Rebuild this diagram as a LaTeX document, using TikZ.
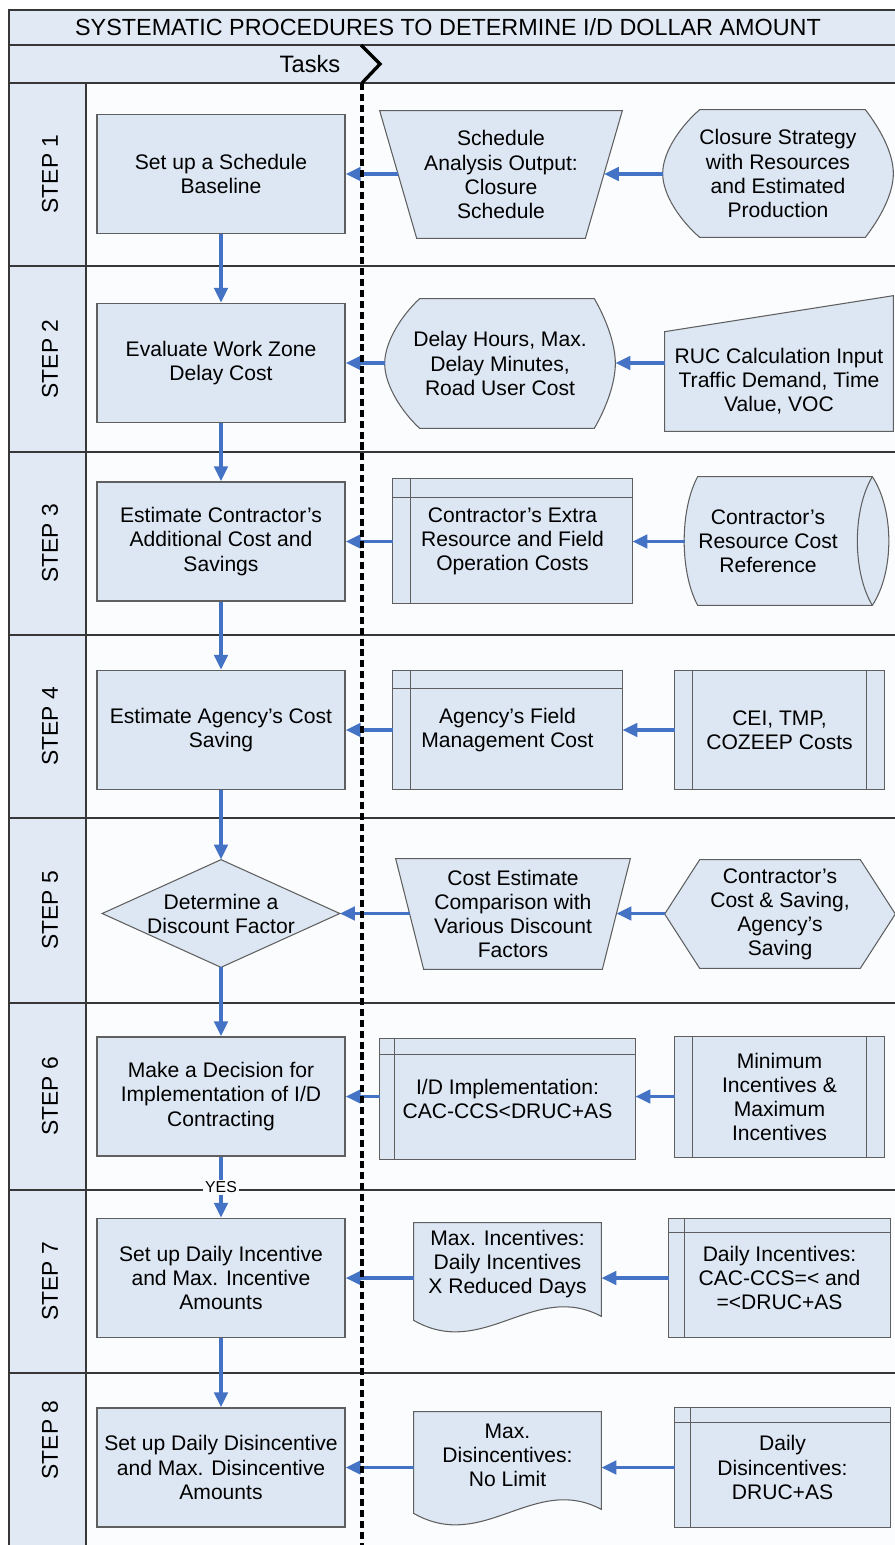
\documentclass[tikz,border=0pt]{standalone}
\usepackage{fontspec}
\setmainfont{Liberation Sans}
\usepackage{tikz}
\usetikzlibrary{arrows.meta,calc,positioning}
\pgfdeclarelayer{bg}
\pgfsetlayers{bg,main}
\definecolor{IDazul}  {RGB}{68, 114, 196}
\definecolor{IDbox}   {RGB}{221,231, 243}
\definecolor{IDlane}  {RGB}{224,233, 244}
\definecolor{IDground}{RGB}{251,252, 254}
\definecolor{IDedge}  {RGB}{95,  95,  95}
\definecolor{IDrule}  {RGB}{55,  55,  55}

\begin{document}
\begin{tikzpicture}[x=0.02cm, y=-0.02cm,
  txt/.style={font=\fontsize{12}{13.7}\selectfont, align=center, inner sep=0pt},
  task/.style={txt, draw=IDedge, line width=0.7pt, fill=IDbox, minimum width=4.96cm, minimum height=2.38cm},
  form/.style={draw=IDedge, line width=0.6pt, fill=IDbox},
  rule/.style={draw=IDrule, line width=0.9pt},
  flow/.style={draw=IDazul, line width=2.1pt, -{Triangle[length=8.5pt,width=7.5pt]}},
  steplabel/.style={rotate=90, font=\fontsize{13}{15}\selectfont},
  yes/.style={font=\fontsize{9}{10}\selectfont, fill=IDground, inner sep=1pt}]
\useasboundingbox (0,0) rectangle (895,1545);
\clip (0,0) rectangle (895,1545);

\begin{pgfonlayer}{bg}
\fill[IDlane] (9,10) rectangle (905,83);
\fill[IDlane] (9,83) rectangle (86,1560);
\fill[IDground] (86,83) rectangle (905,1560);
\foreach \y in {45,83,266,452,635,818,1003,1190,1373}
  \draw[rule] (9,\y) -- (905,\y);
\draw[rule] (9,1560) -- (9,10) -- (905,10);
\draw[rule] (86,83) -- (86,1560);
\end{pgfonlayer}

\node[font=\fontsize{13.3}{15}\selectfont] (title) at (448,27.5) {SYSTEMATIC PROCEDURES TO DETERMINE I/D DOLLAR AMOUNT};
\node[font=\fontsize{13.5}{15}\selectfont] (tasks) at (310,64) {Tasks};
\foreach \n/\y in {1/174,2/359,3/543.5,4/726.5,5/910.5,6/1096.5,7/1281.5,8/1440}
  \node[steplabel] (step\n) at (50,\y) {STEP \n};

\node[task] (t1) at (221,174) {Set up a Schedule\\Baseline};
\node[txt, minimum width=4.1cm, minimum height=2.54cm] (m1) at (501,174.5) {Schedule\\Analysis Output:\\Closure\\Schedule};
\node[txt, minimum width=4.6cm, minimum height=2.54cm] (r1) at (778,173.5) {Closure Strategy\\with Resources\\and Estimated\\Production};

\node[task] (t2) at (221,363) {Evaluate Work Zone\\Delay Cost};
\node[txt, minimum width=4.6cm, minimum height=2.58cm] (m2) at (500,363.5) {Delay Hours, Max.\\Delay Minutes,\\Road User Cost};
\node[txt, minimum width=4.56cm, minimum height=1.98cm] (r2) at (779,381.5) {RUC Calculation Input\\Traffic Demand, Time\\Value, VOC};

\node[task] (t3) at (221,541.5) {Estimate Contractor's\\Additional Cost and\\Savings};
\node[txt, minimum width=4.78cm, minimum height=2.48cm] (m3) at (512.5,541) {Contractor's Extra\\Resource and Field\\Operation Costs};
\node[txt, minimum width=3.32cm, minimum height=2.56cm] (r3) at (768,541) {Contractor's\\Resource Cost\\Reference};

\node[task] (t4) at (221,730) {Estimate Agency's Cost\\Saving};
\node[txt, minimum width=4.58cm, minimum height=2.36cm] (m4) at (507.5,730) {Agency's Field\\Management Cost};
\node[txt, minimum width=4.18cm, minimum height=2.36cm] (r4) at (779.5,730) {CEI, TMP,\\COZEEP Costs};

\node[txt, minimum width=4.74cm, minimum height=2.14cm] (t5) at (221,913.5) {Determine a\\Discount Factor};
\node[txt, minimum width=4.12cm, minimum height=2.2cm] (m5) at (513,914) {Cost Estimate\\Comparison with\\Various Discount\\Factors};
\node[txt, minimum width=4.6cm, minimum height=2.16cm] (r5) at (780,914) {Contractor's\\Cost \& Saving,\\Agency's\\Saving};

\node[task] (t6) at (221,1096.5) {Make a Decision for\\Implementation of I/D\\Contracting};
\node[txt, minimum width=5.1cm, minimum height=2.4cm] (m6) at (507.5,1099) {I/D Implementation:\\CAC-CCS<DRUC+AS};
\node[txt, minimum width=4.18cm, minimum height=2.4cm] (r6) at (779.5,1097) {Minimum\\Incentives \&\\Maximum\\Incentives};

\node[task] (t7) at (221,1278) {Set up Daily Incentive\\and Max. Incentive\\Amounts};
\node[txt, minimum width=3.74cm, minimum height=1.64cm] (m7) at (507.5,1264) {Max. Incentives:\\Daily Incentives\\X Reduced Days};
\node[txt, minimum width=4.42cm, minimum height=2.36cm] (r7) at (779.5,1278) {Daily Incentives:\\CAC-CCS=< and\\=<DRUC+AS};

\node[task] (t8) at (221,1467.5) {Set up Daily Disincentive\\and Max. Disincentive\\Amounts};
\node[txt, minimum width=3.74cm, minimum height=1.72cm] (m8) at (507.5,1455) {Max.\\Disincentives:\\No Limit};
\node[txt, minimum width=4.3cm, minimum height=2.38cm] (r8) at (782.5,1467.5) {Daily\\Disincentives:\\DRUC+AS};

\begin{pgfonlayer}{bg}
\foreach \n/\s in {m1/18.5,m5/14}
  \draw[form] ($(\n.north west)+(-\s,0)$) -- ($(\n.north east)+(\s,0)$) -- ($(\n.south east)+(-\s,0)$) -- ($(\n.south west)+(\s,0)$) -- cycle;
\foreach \n/\a/\b in {r1/37/28,m2/35/21}
  \draw[form] ($(\n.north west)+(\a,0)$) -- ($(\n.north east)+(-\b,0)$)
    .. controls ($(\n.north east)+(-0.45*\b,20)$) and ($(\n.east)+(0,-20)$) .. (\n.east)
    .. controls ($(\n.east)+(0,20)$) and ($(\n.south east)+(-0.45*\b,-20)$) .. ($(\n.south east)+(-\b,0)$)
    -- ($(\n.south west)+(\a,0)$)
    .. controls ($(\n.south west)+(0.5*\a,-16)$) and ($(\n.west)+(0,22)$) .. (\n.west)
    .. controls ($(\n.west)+(0,-22)$) and ($(\n.north west)+(0.5*\a,16)$) .. ($(\n.north west)+(\a,0)$) -- cycle;
\draw[form] (r2.south west) -- (r2.north west) -- ($(r2.north east)+(0,-36)$) -- (r2.south east) -- cycle;
\draw[form] ($(r3.north west)+(13,0)$) -- ($(r3.north east)+(21,0)$)
  .. controls ($(r3.east)+(43,-31)$) and ($(r3.east)+(43,31)$) .. ($(r3.south east)+(21,0)$)
  -- ($(r3.south west)+(13,0)$)
  .. controls ($(r3.west)+(-5,31)$) and ($(r3.west)+(-5,-31)$) .. ($(r3.north west)+(13,0)$) -- cycle;
\draw[form, fill=none] ($(r3.north east)+(21,0)$) .. controls ($(r3.east)+(1,-31)$) and ($(r3.east)+(1,31)$) .. ($(r3.south east)+(21,0)$);
\foreach \n/\dx/\dy in {m3/18/19,m4/18/18,m6/15/16,r7/16/14,r8/16/15} {
  \draw[form] (\n.north west) rectangle (\n.south east);
  \draw[form, fill=none] ($(\n.north west)+(0,\dy)$) -- ($(\n.north east)+(0,\dy)$)
    ($(\n.north west)+(\dx,0)$) -- ($(\n.south west)+(\dx,0)$);
}
\foreach \n in {r4,r6} {
  \draw[form] (\n.north west) rectangle (\n.south east);
  \draw[form, fill=none] ($(\n.north west)+(18,0)$) -- ($(\n.south west)+(18,0)$)
    ($(\n.north east)+(-18,0)$) -- ($(\n.south east)+(-18,0)$);
}
\draw[form] (t5.north) -- (t5.east) -- (t5.south) -- (t5.west) -- cycle;
\draw[form] (r5.west) -- ($(r5.north west)+(35,0)$) -- ($(r5.north east)+(-35,0)$) -- (r5.east)
  -- ($(r5.south east)+(-35,0)$) -- ($(r5.south west)+(35,0)$) -- cycle;
\foreach \n in {m7,m8}
  \draw[form] (\n.north west) -- (\n.north east) -- ($(\n.south east)+(0,11)$)
    .. controls ($(\n.south west)+(120,-25)$) and ($(\n.south west)+(70,55)$) .. ($(\n.south west)+(0,15)$) -- cycle;
\end{pgfonlayer}

\foreach \i in {1,...,8} {
  \draw[flow] (r\i.west |- t\i) -- (m\i.east |- t\i);
  \draw[flow] (m\i.west |- t\i) -- (t\i);
}
\foreach \a/\b in {1/2,2/3,3/4,4/5,5/6,7/8}
  \draw[flow] (t\a) -- (t\b);
\draw[flow] (t6) -- node[yes] (yes) {YES} (t7);

\draw[line width=1.9pt, line join=miter] (361,45) -- (380,64) -- (362,83);
\draw[line width=2.2pt, dash pattern=on 4pt off 2.2pt] (362,83) -- (362,1560);
\end{tikzpicture}
\end{document}
